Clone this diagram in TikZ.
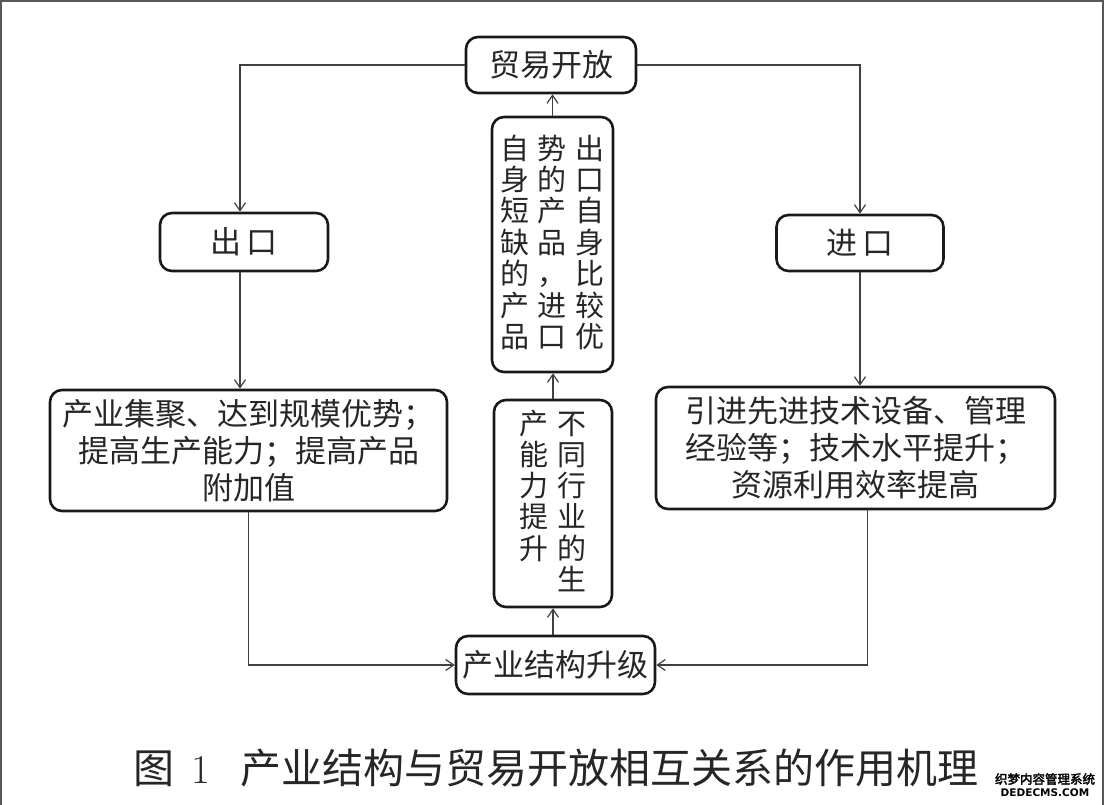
\documentclass[tikz,border=0pt]{standalone}
\usepackage{fontspec}
\usepackage{tikz}
\usetikzlibrary{arrows.meta, positioning}
\newfontfamily\cjk{Noto Sans CJK SC}
\newfontfamily\cjkcu[FakeBold=2.5]{Noto Sans CJK SC}
\newfontfamily\dejavu{DejaVu Sans}

\begin{document}
\begin{tikzpicture}[x=1pt, y=-1pt, >={Straight Barb[length=8pt,width=11pt]},
    kuang/.style={draw=black!90, line width=2.6pt, rounded corners=12pt, inner sep=0pt,
        align=center, text=black!85, font=\cjk\fontsize{31}{37}\selectfont},
    shu/.style={kuang, font=\cjk\fontsize{29}{23}\selectfont},
    xian/.style={->, line width=1.2pt, draw=black!75}]
    \useasboundingbox (0,0) rectangle (1105,805);
    % khung ngoài
    \draw[line width=2pt, black!65] (1,805) -- (1,1) -- (1103,1) -- (1103,805);

    % các hộp
    \node[kuang, minimum width=170, minimum height=56] (kaifang) at (551,65) {贸易开放};
    \node[kuang, minimum width=168, minimum height=58] (chukou) at (244,242) {出\hspace{5pt}口};
    \node[kuang, minimum width=167, minimum height=56] (jinkou) at (860,243) {进\hspace{5pt}口};
    \node[kuang, minimum width=397, minimum height=121] (jiju) at (248.5,450.5)
        {产业集聚、达到规模优势；\\提高生产能力；提高产品\\附加值};
    \node[kuang, minimum width=399, minimum height=122] (yinjin) at (855.5,448)
        {引进先进技术设备、管理\\经验等；技术水平提升；\\资源利用效率提高};
    \node[shu, minimum width=121, minimum height=255] (bijiao) at (552.5,244.5)
        {\begin{tabular}{@{}c@{\hspace{9pt}}c@{\hspace{9pt}}c@{}}
         自&势&出\\ 身&的&口\\ 短&产&自\\ 缺&品&身\\ 的&，&比\\ 产&进&较\\ 品&口&优
         \end{tabular}};
    \node[shu, minimum width=118, minimum height=207] (nengli) at (553,503.5)
        {\begin{tabular}{@{}c@{\hspace{9pt}}c@{}}
         产&不\\ 能&同\\ 力&行\\ 提&业\\ 升&的\\ &生
         \end{tabular}};
    \node[kuang, minimum width=199, minimum height=58] (shengji) at (555.5,665) {产业结构升级};

    % các mũi tên
    \draw[xian] (kaifang.west) -| ([xshift=-4pt]chukou.north);
    \draw[xian] (kaifang.east) -| (jinkou.north);
    \draw[xian] ([xshift=-4pt]chukou.south) -- ([xshift=-4pt]chukou.south |- jiju.north);
    \draw[xian] (jinkou.south) -- (jinkou.south |- yinjin.north);
    \draw[xian] (jiju.south) |- (shengji.west);
    \draw[xian] ([xshift=12pt]yinjin.south) |- (shengji.east);
    \draw[xian] (nengli.south |- shengji.north) -- (nengli.south);
    \draw[xian] (nengli.north) -- (nengli.north |- bijiao.south);
    \draw[xian] (bijiao.north) -- (bijiao.north |- kaifang.south);

    % chú thích
    \node[anchor=west, inner sep=0pt, text=black!85] (tuming) at (133,768)
        {\cjk\fontsize{41}{41}\selectfont 图\hspace{17pt}{\rmfamily 1}\hspace{30pt}产业结构与贸易开放相互关系的作用机理};
    \node[inner sep=0pt] (shuiyin) at (1045,779) {\cjkcu\fontsize{12.5}{13}\selectfont 织梦内容管理系统};
    \node[inner sep=0pt, below=3pt of shuiyin] (wangzhi) {\dejavu\bfseries\fontsize{10.5}{11}\selectfont DEDECMS.COM};
\end{tikzpicture}
\end{document}
